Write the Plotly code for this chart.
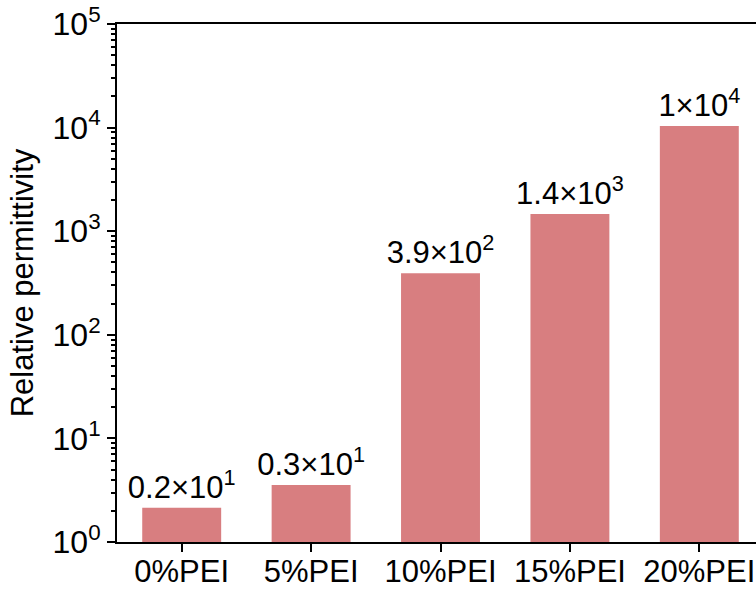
import plotly.graph_objects as go

categories = ["0%PEI", "5%PEI", "10%PEI", "15%PEI", "20%PEI"]
values = [2.14, 3.55, 392, 1466, 10360]
labels = ["0.2×10<sup>1</sup>", "0.3×10<sup>1</sup>", "3.9×10<sup>2</sup>",
          "1.4×10<sup>3</sup>", "1×10<sup>4</sup>"]
ytick_vals = [1, 10, 100, 1000, 10000, 100000]
ytick_text = ["10<sup>0</sup>", "10<sup>1</sup>", "10<sup>2</sup>",
              "10<sup>3</sup>", "10<sup>4</sup>", "10<sup>5</sup>"]

FONT = "Liberation Sans, Arial, sans-serif"

fig = go.Figure()
fig.add_trace(go.Bar(
    x=list(range(len(categories))), y=values,
    width=0.61,
    marker=dict(color="#d87e80", line=dict(width=0)),
    text=labels, textposition="outside", cliponaxis=False,
    constraintext="none",
    textfont=dict(family=FONT, size=31, color="black"),
))

fig.update_layout(
    width=756, height=594,
    margin=dict(l=117, r=0, t=24, b=52, autoexpand=False),
    paper_bgcolor="white", plot_bgcolor="white",
    showlegend=False,
    font=dict(family=FONT, color="black"),
    xaxis=dict(
        tickmode="array", tickvals=list(range(len(categories))), ticktext=categories,
        range=[-0.5, 4.438], automargin=False, ticklabeloverflow="allow",
        ticklabelstandoff=-7,
        showline=True, linecolor="black", linewidth=2, mirror=True,
        ticks="outside", ticklen=8, tickwidth=2, tickcolor="black",
        showgrid=False, zeroline=False,
        tickfont=dict(family=FONT, size=31, color="black"),
    ),
    yaxis=dict(
        type="log", range=[0, 5], automargin=False, ticklabeloverflow="allow",
        tickmode="array", tickvals=ytick_vals, ticktext=ytick_text,
        showline=True, linecolor="black", linewidth=2, mirror=False,
        ticks="outside", ticklen=8, tickwidth=2, tickcolor="black",
        minor=dict(ticks="outside", ticklen=4, tickwidth=2, tickcolor="black",
                   showgrid=False, dtick="D1"),
        showgrid=False, zeroline=False,
        tickfont=dict(family=FONT, size=32, color="black"),
        title=dict(text="Relative permittivity", font=dict(family=FONT, size=31, color="black"), standoff=10),
    ),
)

fig.write_html("out.html")
